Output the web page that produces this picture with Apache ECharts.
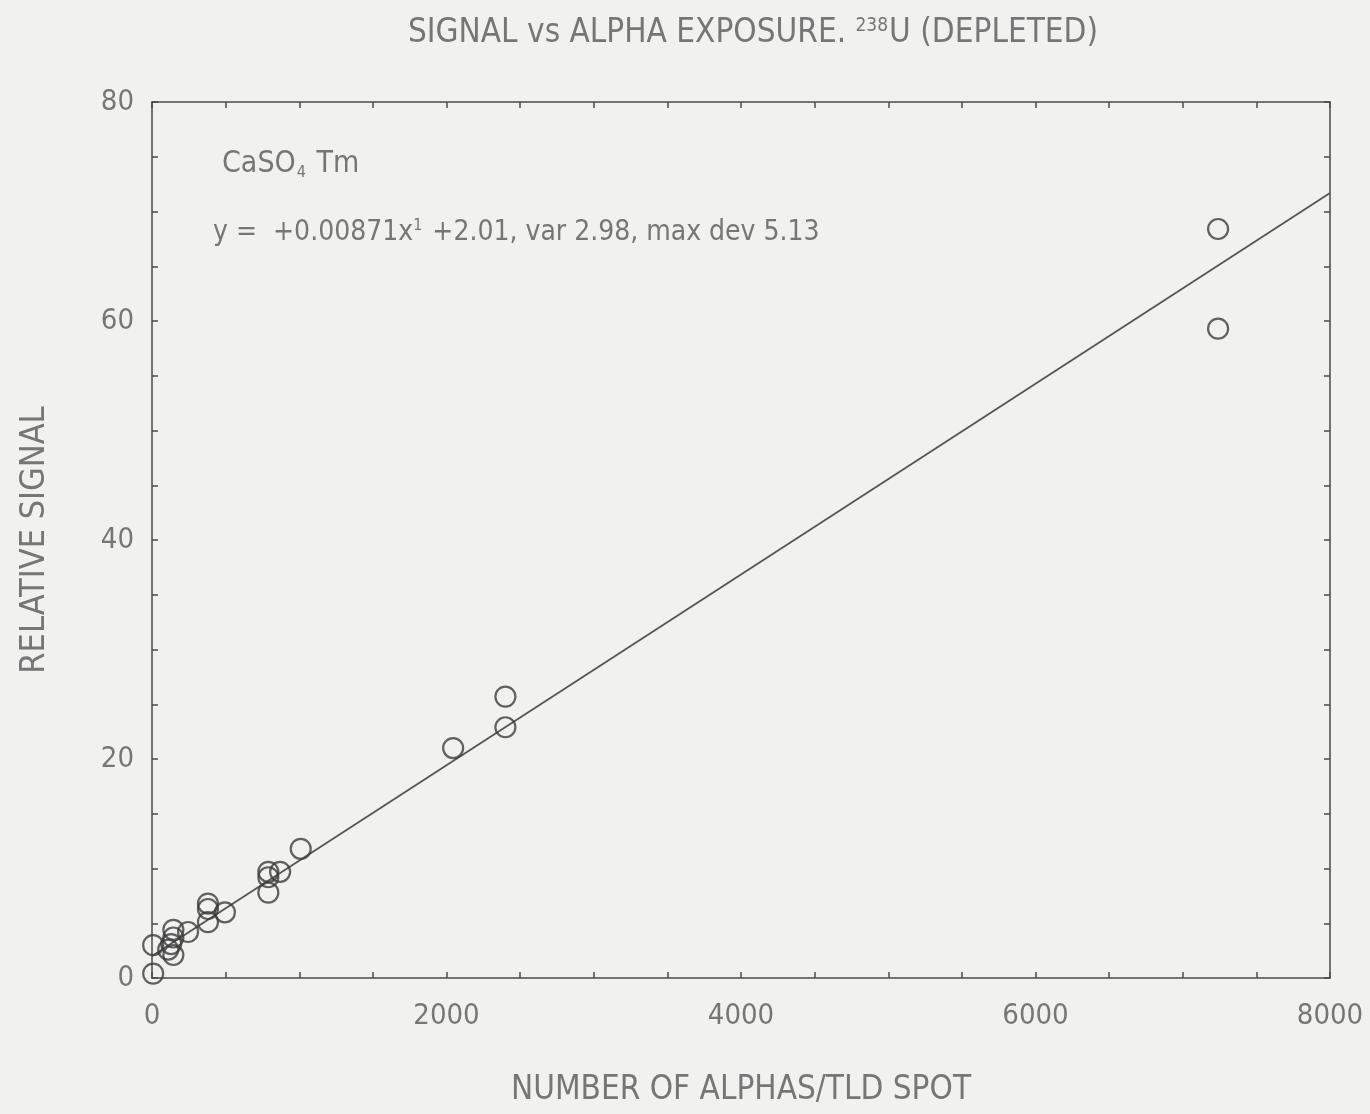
<!DOCTYPE html>
<html>
<head>
<meta charset="utf-8">
<title>Signal vs Alpha Exposure</title>
<script src="https://cdn.jsdelivr.net/npm/echarts@6/dist/echarts.min.js"></script>
<style>
  html, body { margin: 0; padding: 0; background: #f1f1ef; }
  #chart { width: 1370px; height: 1114px; }
</style>
</head>
<body>
<div id="chart"></div>
<script>
// Measured TLD spots: alpha count per spot and relative signal
const alphas = [7240, 7240, 2400, 2400, 2045, 1010, 870, 790, 790, 790,
                495, 380, 380, 380, 245, 145, 145, 130, 110, 145, 8, 8];
const signal = [68.4, 59.3, 25.7, 22.9, 21.0, 11.8, 9.7, 9.7, 9.2, 7.8,
                6.0, 6.8, 6.3, 5.1, 4.2, 4.4, 3.7, 3.1, 2.6, 2.1, 3.0, 0.4];

// Least-squares fit as printed on the plot
const fitSlope = 0.00871;
const fitIntercept = 2.01;
const fitRange = [0, 8000];

const xTickLabels = ['0', '2000', '4000', '6000', '8000'];
const yTickLabels = ['0', '20', '40', '60', '80'];

const points = alphas.map((a, i) => [a, signal[i]]);
const fitLine = fitRange.map(x => [x, fitSlope * x + fitIntercept]);

const FONT = '"Liberation Sans Narrow", "DejaVu Sans Condensed", "Liberation Sans", sans-serif';
const TXT = '#767676';
const INK = '#4a4a4a';

const chart = echarts.init(document.getElementById('chart'), null, { renderer: 'canvas' });

function axisCommon(show) {
  return {
    axisLine: { show: true, onZero: false, lineStyle: { color: INK, width: 1.5 } },
    axisTick: { show: true, inside: true, length: 6, lineStyle: { color: INK, width: 1.5 } },
    splitLine: { show: false },
    axisLabel: { show: show },
  };
}

chart.setOption({
  backgroundColor: '#f1f1ef',
  animation: false,
  title: [
    {
      text: 'SIGNAL vs ALPHA EXPOSURE. {sup|238}U (DEPLETED)',
      left: 748, top: 12, textAlign: 'center',
      textStyle: {
        fontFamily: FONT, fontSize: 33, fontWeight: 'normal', color: TXT,
        rich: { sup: { fontFamily: FONT, fontSize: 19, color: TXT, verticalAlign: 'top', padding: [0, 1, 14, 0] } }
      }
    },
    {
      text: 'CaSO{sub|4} Tm',
      left: 217, top: 142,
      textStyle: {
        fontFamily: FONT, fontSize: 30, fontWeight: 'normal', color: TXT,
        rich: { sub: { fontFamily: FONT, fontSize: 16, color: TXT, padding: [18, 2, 0, 1] } }
      }
    },
    {
      text: 'y =  +0.00871x{sup|1} +2.01, var 2.98, max dev 5.13',
      left: 208, top: 213,
      textStyle: {
        fontFamily: FONT, fontSize: 28, fontWeight: 'normal', color: TXT,
        rich: { sup: { fontFamily: FONT, fontSize: 16, color: TXT, padding: [0, 2, 14, 0] } }
      }
    }
  ],
  grid: { left: 152, right: 40, top: 102, bottom: 136 },
  xAxis: [
    Object.assign(axisCommon(true), {
      type: 'value', min: 0, max: 8000, interval: 500,
      name: 'NUMBER OF ALPHAS/TLD SPOT', nameLocation: 'middle', nameGap: 96,
      nameTextStyle: { fontFamily: FONT, fontSize: 33, color: TXT },
      axisLabel: {
        show: true, margin: 24, fontFamily: FONT, fontSize: 29, color: TXT,
        formatter: v => (v % 2000 === 0 ? xTickLabels[v / 2000] : '')
      }
    }),
    Object.assign(axisCommon(false), {
      type: 'value', min: 0, max: 8000, interval: 500, position: 'top'
    })
  ],
  yAxis: [
    Object.assign(axisCommon(true), {
      type: 'value', min: 0, max: 80, interval: 5,
      name: 'RELATIVE SIGNAL', nameLocation: 'middle', nameGap: 100,
      nameTextStyle: { fontFamily: FONT, fontSize: 34, color: TXT },
      axisLabel: {
        show: true, margin: 18, fontFamily: FONT, fontSize: 29, color: TXT,
        formatter: v => (v % 20 === 0 ? yTickLabels[v / 20] : '')
      }
    }),
    Object.assign(axisCommon(false), {
      type: 'value', min: 0, max: 80, interval: 5, position: 'right'
    })
  ],
  series: [
    {
      name: 'fit', type: 'line', data: fitLine, showSymbol: false, silent: true,
      lineStyle: { color: '#555', width: 1.8 }, z: 2
    },
    {
      name: 'CaSO4:Tm', type: 'scatter', data: points,
      symbol: 'circle', symbolSize: 20,
      itemStyle: { color: 'rgba(0,0,0,0)', borderColor: '#3c3c3c', borderWidth: 2.2 },
      z: 3
    }
  ]
});
</script>
</body>
</html>
